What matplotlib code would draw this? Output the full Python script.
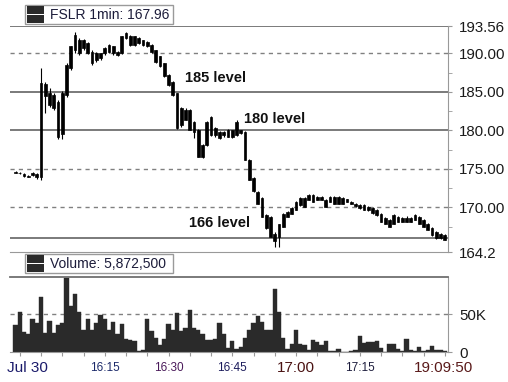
import matplotlib
matplotlib.use("Agg")
import matplotlib.pyplot as plt
from matplotlib.patches import Rectangle

plt.rcParams['font.family'] = ['Liberation Sans', 'DejaVu Sans']

# one-minute bars, minutes relative to 16:00 (Jul 30)
minutes = list(range(-6, 96))

open_ = [174.6, 174.5, 174.3, 174.1, 174.2, 174.3, 173.9, 186.0, 184.8, 184.6,
         183.7, 179.5, 184.6, 188.1, 190.4, 191.7, 190.7, 191.3, 190.2, 189.1,
         190.0, 190.0, 190.2, 190.9, 190.2, 190.0, 192.0, 192.2, 191.1, 192.0,
         191.7, 191.5, 191.1, 190.4, 189.6, 188.7, 187.2, 186.3, 184.8, 180.7,
         182.7, 182.7, 181.1, 180.1, 176.6, 178.1, 181.8, 179.4, 179.8, 179.4,
         180.1, 180.0, 179.4, 180.0, 179.8, 176.2, 173.8, 172.0, 171.2, 169.0,
         168.8, 166.6, 166.2, 167.5, 168.8, 169.2, 169.7, 170.3, 171.2, 171.0,
         171.6, 171.0, 171.4, 171.0, 170.75, 171.4, 170.5, 171.2, 171.05, 170.75,
         170.5, 170.3, 170.3, 170.1, 169.9, 169.7, 169.2, 168.6, 168.4, 167.9,
         168.8, 168.15, 168.6, 168.15, 168.4, 168.8, 168.4, 167.9, 167.3, 166.85,
         166.0, 166.4]
high = [174.7, 174.6, 174.4, 174.2, 174.6, 174.4, 188.1, 186.3, 185.5, 184.9,
        184.0, 185.1, 188.8, 191.0, 192.8, 192.0, 191.9, 191.5, 190.4, 190.2,
        190.1, 190.8, 191.2, 191.0, 190.3, 192.3, 192.8, 192.4, 192.3, 192.1,
        191.8, 191.6, 191.2, 190.5, 189.7, 188.8, 187.3, 186.4, 184.9, 183.0,
        182.9, 182.8, 181.2, 180.2, 178.2, 181.2, 181.9, 180.4, 179.9, 179.9,
        180.2, 180.1, 181.35, 180.1, 179.9, 176.3, 173.9, 172.1, 171.3, 169.1,
        168.9, 166.8, 167.9, 169.3, 169.5, 170.0, 170.8, 171.3, 171.3, 171.7,
        171.7, 171.5, 171.5, 171.1, 171.5, 171.5, 171.5, 171.3, 171.1, 170.8,
        170.6, 170.4, 170.4, 170.2, 170.0, 169.8, 169.3, 168.7, 168.5, 169.1,
        168.9, 168.7, 168.9, 168.7, 169.1, 168.9, 168.5, 168.0, 167.4, 166.9,
        166.7, 166.5]
low = [174.4, 174.3, 174.0, 173.9, 174.1, 173.7, 173.6, 182.2, 183.1, 182.7,
       178.9, 178.9, 184.3, 187.8, 190.0, 189.8, 190.5, 189.9, 188.5, 188.9,
       189.2, 189.8, 190.0, 189.8, 189.6, 189.9, 191.9, 190.9, 191.0, 191.2,
       191.0, 190.8, 190.1, 188.8, 188.2, 186.9, 185.8, 184.5, 180.2, 180.5,
       181.3, 180.0, 179.0, 176.5, 176.4, 178.0, 179.3, 179.2, 178.9, 179.2,
       179.1, 179.0, 179.3, 179.5, 176.1, 173.5, 172.0, 170.4, 168.7, 167.2,
       166.1, 164.8, 164.8, 167.4, 168.7, 169.1, 169.6, 170.2, 170.0, 170.9,
       170.7, 170.9, 170.9, 170.0, 170.7, 170.4, 170.4, 170.4, 170.7, 170.4,
       170.1, 169.8, 169.6, 169.5, 169.2, 168.9, 168.1, 167.8, 167.4, 167.8,
       168.1, 168.1, 168.1, 168.1, 168.3, 167.9, 167.4, 167.0, 166.3, 165.9,
       165.9, 165.7]
close = [174.5, 174.4, 174.1, 174.0, 174.4, 173.9, 186.1, 184.5, 183.3, 182.9,
         179.2, 184.8, 188.5, 190.9, 192.4, 190.0, 191.7, 190.0, 188.7, 190.0,
         189.4, 190.7, 191.1, 190.0, 189.8, 192.2, 192.6, 191.1, 192.2, 191.3,
         191.1, 190.9, 190.2, 188.9, 188.3, 187.0, 185.9, 184.6, 180.3, 182.9,
         181.4, 180.1, 179.8, 176.6, 178.1, 181.1, 179.4, 180.3, 179.0, 179.8,
         179.2, 179.2, 181.1, 179.6, 176.2, 173.6, 172.1, 170.5, 168.8, 167.3,
         166.2, 165.6, 167.9, 169.2, 169.45, 169.9, 170.75, 171.2, 170.1, 171.6,
         170.75, 171.4, 171.0, 170.1, 171.4, 170.5, 171.4, 170.5, 170.75, 170.45,
         170.2, 169.9, 169.7, 169.6, 169.25, 169.0, 168.15, 167.9, 167.5, 169.0,
         168.15, 168.6, 168.15, 168.6, 169.0, 167.9, 167.5, 167.1, 166.4, 166.0,
         166.6, 165.8]

volume_k = [35, 53, 26.5, 24, 44, 37.6, 72, 25, 41, 25,
            35, 37.6, 98, 60, 76.5, 53, 29.6, 43, 28.7, 37.6,
            48.7, 44, 28.7, 39.8, 24, 36.7, 17.7, 15.5, 14.6, 1.3,
            3, 44, 27.9, 19, 8.8, 17.7, 36.7, 29.6, 51.8, 27.9,
            31, 55, 31, 29.6, 24, 16.4, 16.4, 17.7, 38.5, 24,
            5.7, 14.6, 4.4, 6.6, 19, 28.7, 38, 47.3, 39.8, 29.6,
            29.6, 83, 53, 19, 4.4, 10, 28.7, 10, 8.8, 2,
            15.5, 13, 8.8, 14, 1.3, 1.3, 4.4, 0, 0, 1.3,
            3, 20.8, 12, 13, 13, 14.6, 5.7, 0.5, 10, 10,
            4.4, 1.3, 17.7, 3, 1.3, 6.6, 1.3, 2, 7.5, 3,
            3, 1.3]

price_ticks = [164.2, 170, 175, 180, 185, 190, 193.56]
price_labels = ['164.2', '170.00', '175.00', '180.00', '185.00', '190.00', '193.56']
price_minor = [167.5, 172.5, 177.5, 182.5, 187.5]
solid_levels = [193.56, 185, 180, 166]
dashed_levels = [190, 175, 170]
level_notes = [(33.9, 186.8, '185 level'), (47.8, 181.5, '180 level'),
               (34.8, 168.0, '166 level')]

time_ticks = list(range(-5, 96, 5))
time_labels = [(-3.3, 'Jul 30', 11, '#1b1b6b'), (15, '16:15', 8.5, '#1c2a6a'),
               (30, '16:30', 8.5, '#4a1a5a'), (45, '16:45', 8.5, '#1c1c5c'),
               (60, '17:00', 11, '#4a1212'), (75, '17:15', 8.5, '#1c1c3c'),
               (94.8, '19:09:50', 11, '#5a1a1a')]

W, H = 508, 382
GRID = '#707070'
AXC = '#999999'

fig = plt.figure(figsize=(W / 100, H / 100), dpi=100)
ax = fig.add_axes([10 / W, 1 - 252 / H, 438 / W, 226 / H])
axv = fig.add_axes([10 / W, 1 - 352 / H, 438 / W, 75 / H], sharex=ax)

# price panel
for lv in solid_levels:
    ax.axhline(lv, color=GRID, lw=1.3, zorder=1)
for lv in dashed_levels:
    ax.axhline(lv, color='#808080', lw=1.0, ls=(0, (3, 3)), zorder=1)

ax.vlines(minutes, low, high, color='black', lw=0.8, zorder=3)
bottoms = [min(o, c) for o, c in zip(open_, close)]
heights = [abs(c - o) for o, c in zip(open_, close)]
ax.bar(minutes, heights, bottom=bottoms, width=0.62, color='black',
       edgecolor='black', linewidth=0.5, zorder=3)

for x, y, s in level_notes:
    ax.text(x, y, s, fontsize=10.5, fontweight='bold', color='#111',
            ha='left', va='center', zorder=4)

ax.set_xlim(-7.3, 95.76)
ax.set_ylim(164.2, 193.56)
ax.yaxis.tick_right()
ax.set_yticks(price_ticks)
ax.set_yticklabels(price_labels)
ax.set_yticks(price_minor, minor=True)
ax.tick_params(axis='y', which='both', direction='out', length=3, color=AXC,
               labelsize=10.8, pad=5, labelcolor='#1a1a1a')
ax.tick_params(axis='x', bottom=False, labelbottom=False)
for side in ['left', 'top']:
    ax.spines[side].set_visible(False)
for side in ['right', 'bottom']:
    ax.spines[side].set_color(AXC)

# volume panel
axv.bar(minutes, [v * 1000 for v in volume_k], width=1.0, color='#2a2a2a',
        edgecolor='#2a2a2a', linewidth=0.3, zorder=2)
axv.axhline(50000, color='#808080', lw=1.0, ls=(0, (3, 3)), zorder=1)
axv.set_ylim(0, 98700)
axv.yaxis.tick_right()
axv.set_yticks([0, 50000])
axv.set_yticklabels(['0', '50K'])
axv.tick_params(axis='y', direction='out', length=3, color=AXC,
                labelsize=10.8, pad=5, labelcolor='#1a1a1a')
axv.set_xticks(time_ticks)
axv.tick_params(axis='x', direction='out', length=3, color=AXC,
                labelbottom=False)
axv.spines['left'].set_visible(False)
for side in ['right', 'bottom']:
    axv.spines[side].set_color(AXC)
axv.spines['top'].set_color(GRID)
axv.spines['top'].set_linewidth(1.3)

for x, s, size, col in time_labels:
    axv.text(x, -0.215, s, fontsize=size, color=col, ha='center', va='center',
             transform=axv.get_xaxis_transform())


# legend-like boxes above each panel
def legend_box(top, label):
    fig.add_artist(Rectangle((25 / W, 1 - (top + 19) / H), 148 / W, 19 / H,
                             transform=fig.transFigure, facecolor='white',
                             edgecolor='#9a9a9a', lw=1))
    fig.add_artist(Rectangle((27 / W, 1 - (top + 9) / H), 17 / W, 8 / H,
                             transform=fig.transFigure, facecolor='#2a2a2a',
                             edgecolor='none'))
    fig.add_artist(Rectangle((27 / W, 1 - (top + 18) / H), 17 / W, 8 / H,
                             transform=fig.transFigure, facecolor='#2a2a2a',
                             edgecolor='none'))
    fig.text(50 / W, 1 - (top + 10) / H, label, fontsize=10, color='#1c1c3a',
             ha='left', va='center')


legend_box(5, 'FSLR 1min: 167.96')
legend_box(254, 'Volume: 5,872,500')

fig.savefig('out.png', dpi=100)
